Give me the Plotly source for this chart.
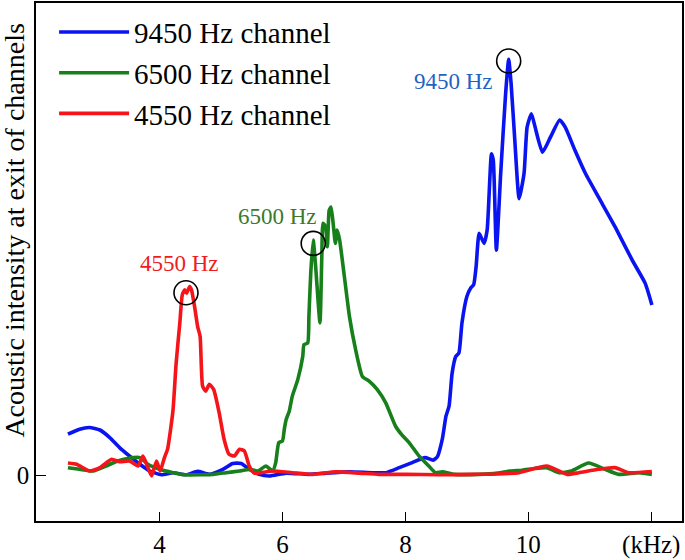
import plotly.graph_objects as go

# ---- data (frequency in kHz, acoustic intensity in arbitrary units) ----
x_9450 = [2.51, 2.70, 2.86, 3.03, 3.19, 3.35, 3.51, 3.68, 3.84, 4.03, 4.22, 4.43, 4.62, 4.81,
          5.03, 5.19, 5.33, 5.46, 5.62, 5.79, 6.06, 6.43, 6.71, 7.09, 7.46, 7.68, 7.90, 8.11,
          8.32, 8.45, 8.52, 8.60, 8.66, 8.71, 8.76, 8.82, 8.87, 8.92, 9.00, 9.06, 9.11, 9.15,
          9.20, 9.28, 9.33, 9.40, 9.43, 9.48, 9.55, 9.63, 9.68, 9.72, 9.78, 9.85, 9.93, 9.98,
          10.05, 10.11, 10.23, 10.36, 10.51, 10.60, 10.76, 10.93, 11.14, 11.41, 11.69, 11.90, 12.01]
y_9450 = [9.8, 11.0, 11.4, 10.8, 9.0, 6.6, 4.6, 2.6, 1.0, 0.1, 0.6, 0.1, 0.9, 0.2,
          1.4, 2.8, 2.8, 1.4, 0.2, -0.2, 0.5, 0.2, 0.5, 0.8, 0.6, 0.6, 1.8, 3.0,
          4.2, 3.6, 4.4, 8.6, 14.1, 16.5, 24.4, 28.4, 29.2, 36.4, 42.7, 44.7, 45.5, 49.8,
          57.8, 55.4, 58.6, 76.8, 75.2, 53.8, 72.1, 91.1, 99.4, 93.5, 80.0, 66.1, 72.1, 83.2,
          86.4, 83.2, 77.2, 80.8, 84.9, 83.2, 77.6, 72.1, 66.5, 59.4, 51.4, 45.9, 40.7]

x_6500 = [2.51, 2.70, 2.92, 3.13, 3.32, 3.48, 3.68, 3.81, 4.00, 4.22, 4.41, 4.65, 4.87, 5.08,
          5.30, 5.46, 5.60, 5.73, 5.84, 5.89, 5.94, 6.00, 6.03, 6.06, 6.11, 6.16, 6.25, 6.33,
          6.35, 6.41, 6.43, 6.46, 6.50, 6.54, 6.61, 6.64, 6.66, 6.70, 6.73, 6.76, 6.79, 6.83,
          6.86, 6.89, 6.93, 7.00, 7.09, 7.19, 7.30, 7.41, 7.54, 7.68, 7.84, 7.95, 8.06, 8.22,
          8.38, 8.49, 8.60, 8.80, 9.20, 9.50, 9.70, 9.90, 10.10, 10.30, 10.50, 10.70, 10.98,
          11.25, 11.47, 11.79, 12.01]
y_6500 = [1.8, 1.4, 1.0, 2.2, 3.4, 4.0, 4.2, 2.6, 1.4, 0.6, 0.1, 0.1, 0.2, 0.6,
          1.0, 1.4, 1.0, 2.2, 1.0, 3.0, 7.8, 8.2, 11.0, 13.3, 15.3, 18.9, 22.9, 28.4,
          31.2, 31.6, 37.9, 48.3, 56.2, 49.8, 36.4, 52.2, 60.2, 59.4, 54.6, 63.3, 64.1, 59.4,
          55.4, 58.6, 56.2, 48.3, 37.9, 30.0, 23.6, 22.5, 20.5, 17.3, 11.7, 9.5, 7.8, 4.6,
          2.2, 0.6, 0.8, 0.2, 0.2, 0.5, 1.0, 1.2, 1.6, 1.8, 0.6, 1.0, 2.9,
          1.4, 0.2, 0.6, 0.2]

x_4550 = [2.51, 2.65, 2.86, 3.03, 3.22, 3.35, 3.51, 3.65, 3.73, 3.79, 3.87, 3.95, 4.01, 4.08,
          4.13, 4.18, 4.22, 4.27, 4.33, 4.37, 4.41, 4.44, 4.49, 4.52, 4.57, 4.62, 4.66, 4.70,
          4.75, 4.81, 4.88, 4.97, 5.05, 5.13, 5.22, 5.30, 5.38, 5.46, 5.54, 5.84, 6.16, 6.49,
          6.87, 7.25, 7.57, 8.00, 8.55, 9.09, 9.50, 9.85, 10.30, 10.63, 10.82, 11.14, 11.41,
          11.63, 12.01]
y_4550 = [2.9, 2.6, 1.0, 1.8, 3.8, 3.2, 3.4, 2.2, 4.6, 2.6, -0.2, 3.4, 1.0, 4.2,
          6.2, 11.0, 15.7, 26.8, 36.4, 43.1, 44.3, 43.5, 45.1, 44.3, 40.3, 35.5, 33.2, 21.3,
          20.1, 21.7, 20.5, 14.9, 8.6, 5.0, 4.6, 6.2, 5.8, 2.2, 0.5, 1.0, 0.6, 0.2,
          0.8, 0.5, 0.2, 0.2, 0.1, 0.2, 0.3, 0.6, 2.2, 0.2, 0.6, 1.4, 1.8,
          0.6, 0.9]

peak_x = [9.68, 6.50, 4.43]
peak_y = [99.0, 55.4, 43.6]
peak_labels = ["9450 Hz", "6500 Hz", "4550 Hz"]
label_x = [8.79, 5.92, 4.32]
label_y = [94.0, 61.9, 50.7]
label_colors = ["#1f64c4", "#3b7a2a", "#ee1c1c"]

x_tickvals = [4, 6, 8, 10, 12]
x_ticktext = ["4", "6", "8", "10", "(kHz)"]

FONT = "Liberation Serif, Times New Roman, serif"

fig = go.Figure()
fig.add_trace(go.Scatter(x=x_9450, y=y_9450, mode="lines", name="9450 Hz channel",
                         line=dict(color="#0a14f0", width=3.6, shape="spline", smoothing=0.5)))
fig.add_trace(go.Scatter(x=x_6500, y=y_6500, mode="lines", name="6500 Hz channel",
                         line=dict(color="#17801a", width=3.6, shape="spline", smoothing=0.5)))
fig.add_trace(go.Scatter(x=x_4550, y=y_4550, mode="lines", name="4550 Hz channel",
                         line=dict(color="#f5141a", width=3.6, shape="spline", smoothing=0.5)))
fig.add_trace(go.Scatter(x=peak_x, y=peak_y, mode="markers", showlegend=False, hoverinfo="skip",
                         marker=dict(symbol="circle-open", size=24, color="black",
                                     line=dict(color="black", width=1.6))))

for lx, ly, txt, c in zip(label_x, label_y, peak_labels, label_colors):
    fig.add_annotation(x=lx, y=ly, text=txt, showarrow=False,
                       font=dict(family=FONT, size=23, color=c))

fig.add_annotation(xref="paper", yref="paper", x=-0.033, y=0.56, xanchor="center", yanchor="middle",
                   text="Acoustic intensity at exit of channels", textangle=-90, showarrow=False,
                   font=dict(family=FONT, size=28, color="black"))

fig.update_layout(
    width=685, height=560,
    margin=dict(l=36, r=1, t=2, b=38),
    paper_bgcolor="white", plot_bgcolor="white",
    font=dict(family=FONT, color="black"),
    showlegend=True,
    legend=dict(x=0.028, y=0.993, xanchor="left", yanchor="top",
                font=dict(family=FONT, size=29, color="black"),
                bgcolor="rgba(0,0,0,0)", itemwidth=70, tracegroupgap=0),
    xaxis=dict(range=[1.99, 12.5], tickvals=x_tickvals, ticktext=x_ticktext,
               showgrid=False, zeroline=False, showline=True, mirror=True,
               linecolor="black", linewidth=1.5, ticks="inside", ticklen=9,
               tickcolor="black", tickwidth=1.3, tickfont=dict(family=FONT, size=25)),
    yaxis=dict(range=[-10.95, 112.86], tickvals=[0], ticktext=["0"],
               showgrid=False, zeroline=False, showline=True, mirror=True,
               linecolor="black", linewidth=1.5, ticks="inside", ticklen=10,
               tickcolor="black", tickwidth=1.3, tickfont=dict(family=FONT, size=25)),
)

fig.write_html("out.html", config={"displayModeBar": False},
               post_script="document.body.style.margin='0px';")
